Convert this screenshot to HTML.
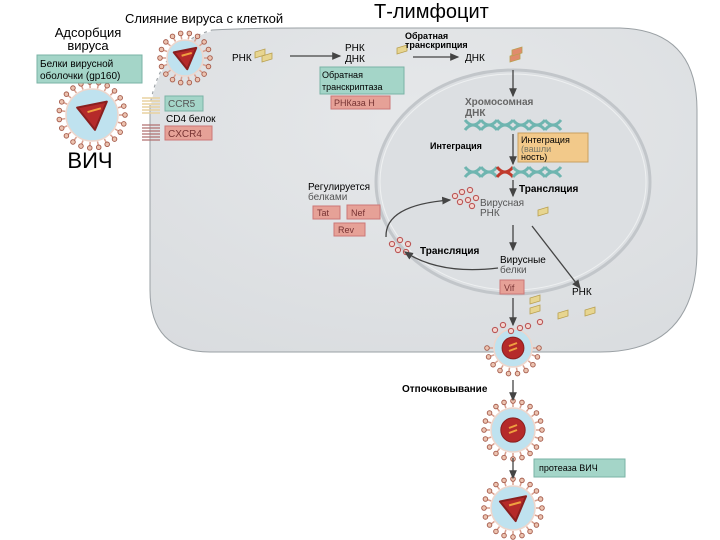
<!DOCTYPE html>
<html><head><meta charset="utf-8"><style>
html,body{margin:0;padding:0;background:#fff;}
svg{display:block;font-family:"Liberation Sans",sans-serif;}
</style></head><body>
<svg id="s" width="720" height="540" viewBox="0 0 720 540" xmlns="http://www.w3.org/2000/svg">
<defs>
<marker id="ar" markerWidth="8" markerHeight="8" refX="6" refY="4" orient="auto"><path d="M0,1 L7,4 L0,7 Z" fill="#444"/></marker>
<radialGradient id="cg" cx="0.5" cy="0.3" r="0.9"><stop offset="0" stop-color="#e6e8ea"/><stop offset="1" stop-color="#d8dbde"/></radialGradient>
</defs>
<path d="M212,30 Q250,28 300,28 L620,28 Q697,30 697,110 L697,250 Q697,352 600,352 L210,352 Q150,352 150,290 L150,105 Q160,45 212,30 Z" fill="url(#cg)" stroke="#9aa0a4" stroke-width="1"/>
<path d="M150,105 Q160,45 212,30" fill="none" stroke="#fff" stroke-width="2" stroke-dasharray="4,3"/>
<ellipse cx="513" cy="182" rx="137" ry="112" fill="#dcdfe2" stroke="#c2c6ca" stroke-width="3"/>
<ellipse cx="513" cy="182" rx="133" ry="108" fill="none" stroke="#eef0f1" stroke-width="1"/>
<g id="v"></g>
<rect x="37" y="55" width="105" height="28" fill="#a4d5c8" stroke="#7ab3a6"/>
<text x="40" y="67" font-size="10">Белки вирусной</text>
<text x="40" y="79" font-size="10">оболочки (gp160)</text>
<rect x="165" y="96" width="38" height="15" fill="#a4d5c8" stroke="#7ab3a6"/>
<text x="168" y="107" font-size="10" fill="#555">CCR5</text>
<text x="166" y="122" font-size="10">CD4 белок</text>
<rect x="165" y="126" width="47" height="14" fill="#e6a197" stroke="#c77"/>
<text x="168" y="137" font-size="10" fill="#733">CXCR4</text>
<rect x="320" y="67" width="84" height="27" fill="#a4d5c8" stroke="#7ab3a6"/>
<text x="322" y="78" font-size="9">Обратная</text>
<text x="322" y="90" font-size="9">транскриптаза</text>
<rect x="331" y="96" width="59" height="13" fill="#e6a197" stroke="#c77"/>
<text x="334" y="106" font-size="9" fill="#733">РНКаза Н</text>
<rect x="518" y="133" width="70" height="29" fill="#f2c98a" stroke="#c9a060"/>
<text x="521" y="143" font-size="9">Интеграция</text>
<text x="521" y="152" font-size="9" fill="#776">(вашли</text>
<text x="521" y="160" font-size="9">ность)</text>
<rect x="313" y="206" width="27" height="13" fill="#e6a197" stroke="#c77"/>
<text x="317" y="216" font-size="9" fill="#733">Tat</text>
<rect x="347" y="205" width="33" height="14" fill="#e6a197" stroke="#c77"/>
<text x="351" y="216" font-size="9" fill="#733">Nef</text>
<rect x="334" y="223" width="31" height="13" fill="#e6a197" stroke="#c77"/>
<text x="338" y="233" font-size="9" fill="#733">Rev</text>
<rect x="500" y="280" width="24" height="14" fill="#e6a197" stroke="#c77"/>
<text x="504" y="291" font-size="9" fill="#733">Vif</text>
<rect x="534" y="459" width="91" height="18" fill="#a4d5c8" stroke="#7ab3a6"/>
<text x="539" y="471" font-size="9">протеаза ВИЧ</text>
<text x="125" y="23" font-size="13">Слияние вируса с клеткой</text>
<text x="374" y="18" font-size="20">Т-лимфоцит</text>
<text x="88" y="37" font-size="13" text-anchor="middle">Адсорбция</text>
<text x="88" y="50" font-size="13" text-anchor="middle">вируса</text>
<text x="90" y="168" font-size="22" text-anchor="middle">ВИЧ</text>
<text x="232" y="61" font-size="10">РНК</text>
<text x="345" y="51" font-size="10">РНК</text>
<text x="345" y="62" font-size="10">ДНК</text>
<text x="405" y="39" font-size="9" font-weight="bold">Обратная</text>
<text x="405" y="48" font-size="9" font-weight="bold">транскрипция</text>
<text x="465" y="61" font-size="10">ДНК</text>
<text x="465" y="105" font-size="10" font-weight="bold" fill="#666">Хромосомная</text>
<text x="465" y="116" font-size="10" font-weight="bold" fill="#666">ДНК</text>
<text x="430" y="149" font-size="9" font-weight="bold">Интеграция</text>
<text x="519" y="192" font-size="10" font-weight="bold">Трансляция</text>
<text x="480" y="206" font-size="10" fill="#555">Вирусная</text>
<text x="480" y="216" font-size="10" fill="#555">РНК</text>
<text x="308" y="190" font-size="10">Регулируется</text>
<text x="308" y="200" font-size="10" fill="#555">белками</text>
<text x="420" y="254" font-size="10" font-weight="bold">Трансляция</text>
<text x="500" y="263" font-size="10">Вирусные</text>
<text x="500" y="273" font-size="10" fill="#555">белки</text>
<text x="572" y="295" font-size="10">РНК</text>
<text x="402" y="392" font-size="10" font-weight="bold">Отпочковывание</text>
<g stroke="#444" stroke-width="1.3" fill="none" marker-end="url(#ar)">
<line x1="290" y1="56" x2="340" y2="56"/>
<line x1="413" y1="57" x2="458" y2="57"/>
<line x1="513" y1="70" x2="513" y2="96"/>
<line x1="513" y1="134" x2="513" y2="164"/>
<line x1="513" y1="180" x2="513" y2="196"/>
<line x1="513" y1="225" x2="513" y2="250"/>
<line x1="513" y1="298" x2="513" y2="325"/>
<line x1="513" y1="380" x2="513" y2="400"/>
<line x1="513" y1="458" x2="513" y2="478"/>
<line x1="532" y1="226" x2="580" y2="288"/>
<path d="M386,237 Q385,205 450,200"/>
<path d="M498,268 Q440,275 405,252"/>
</g>
</svg>
<script>
var g=document.getElementById('v'),h='';
function virus(cx,cy,r,tri,full){
 var n=Math.round(r*0.7);
 for(var i=0;i<n;i++){var a=2*Math.PI*i/n;if(!full&&(a>Math.PI*1.02&&a<Math.PI*1.98))continue;
  var x=cx+Math.cos(a)*r,y=cy+Math.sin(a)*r;
  var x2=cx+Math.cos(a)*(r-6),y2=cy+Math.sin(a)*(r-6);
  h+='<line x1="'+x+'" y1="'+y+'" x2="'+x2+'" y2="'+y2+'" stroke="#d9a08f" stroke-width="1.5"/>';
  h+='<circle cx="'+x+'" cy="'+y+'" r="2.3" fill="#ecc3b0" stroke="#a45a4a" stroke-width="0.9"/>';}
 h+='<circle cx="'+cx+'" cy="'+cy+'" r="'+(r-7)+'" fill="#bfe2ef" stroke="#edd6cc" stroke-width="1.5"/>';
 if(tri){var s=r*0.45;h+='<path d="M'+(cx-s)+','+(cy-s*0.5)+' L'+(cx+s)+','+(cy-s*0.9)+' L'+(cx+s*0.2)+','+(cy+s)+' Z" fill="#b52a2a" stroke="#8a1f1f" stroke-linejoin="round" stroke-width="2"/>';
  h+='<line x1="'+(cx-s*0.3)+'" y1="'+(cy-s*0.2)+'" x2="'+(cx+s*0.6)+'" y2="'+(cy-s*0.45)+'" stroke="#f0a040" stroke-width="2"/>';}
 else{var rr=r*0.42;h+='<circle cx="'+cx+'" cy="'+cy+'" r="'+rr+'" fill="#b52a2a" stroke="#8a1f1f"/>';
  h+='<line x1="'+(cx-4)+'" y1="'+(cy-2)+'" x2="'+(cx+4)+'" y2="'+(cy-5)+'" stroke="#f0a040" stroke-width="2"/><line x1="'+(cx-4)+'" y1="'+(cy+3)+'" x2="'+(cx+4)+'" y2="'+cy+'" stroke="#f0a040" stroke-width="2"/>';}
}
virus(92,115,33,true,true);
virus(185,58,25,true,true);
virus(513,430,29,false,true);
virus(513,508,29,true,true);
virus(513,348,26,false,false);
function dots(pts){pts.forEach(function(p){h+='<circle cx="'+p[0]+'" cy="'+p[1]+'" r="2.6" fill="#f4d6d0" stroke="#b55" stroke-width="1.1"/>';});}
dots([[455,196],[462,192],[470,190],[460,202],[468,200],[476,198],[472,206]]);
dots([[392,244],[400,240],[408,244],[398,250],[406,252]]);
dots([[495,330],[503,325],[511,331],[520,328],[528,326],[540,322]]);
function rna(x,y,c){h+='<path d="M'+x+','+(y+4)+' l10,-3 l0,-6 l-10,3 Z" fill="'+c+'" stroke="#b9a050" stroke-width="0.8"/>';}
rna(262,58,'#e7d590');rna(255,54,'#e7d590');rna(397,50,'#e7d590');rna(510,58,'#e08b6c');rna(512,52,'#e08b6c');rna(538,212,'#e7d590');
rna(530,300,'#e7d590');rna(530,310,'#e7d590');rna(558,315,'#e7d590');rna(585,312,'#e7d590');
function helix(x,y,red){for(var i=0;i<6;i++){var xx=x+i*16;h+='<path d="M'+xx+','+(y-5)+' q8,10 16,0 M'+xx+','+(y+5)+' q8,-10 16,0" stroke="'+(red&&i==2?'#c0392b':'#6fb5b0')+'" stroke-width="3" fill="none"/>';}}
helix(465,125,false);helix(465,172,true);
for(var i=0;i<6;i++){h+='<line x1="142" y1="'+(98+i*3)+'" x2="160" y2="'+(98+i*3)+'" stroke="#e8d2a0" stroke-width="1.5"/>';h+='<line x1="142" y1="'+(125+i*3)+'" x2="160" y2="'+(125+i*3)+'" stroke="#b07070" stroke-width="1.2"/>';}
g.innerHTML=h;
</script>
</body></html>
